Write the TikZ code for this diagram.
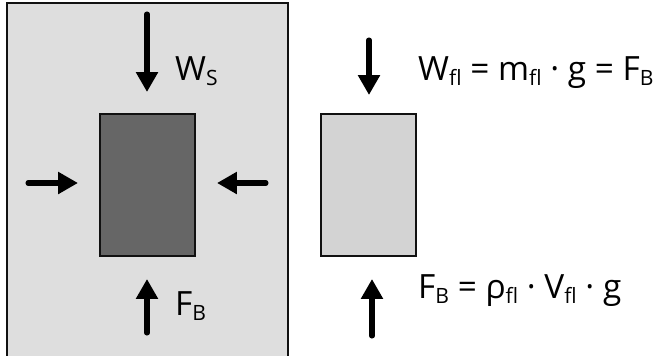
\documentclass[tikz,border=0pt]{standalone}
\usepackage{fontspec}
\setmainfont[Ligatures=NoCommon]{Open Sans}
\usetikzlibrary{arrows.meta, positioning}
\usepackage{xcolor}
\definecolor{fluid}{HTML}{DEDEDE}
\definecolor{solidgray}{HTML}{666666}
\definecolor{lightbody}{HTML}{D3D3D3}
\definecolor{edge}{HTML}{111111}
\newcommand\idx[1]{\raisebox{-0.17em}{\fontsize{18}{19}\selectfont #1}}

\begin{document}
\begin{tikzpicture}[x=0.03cm, y=-0.03cm,
    body/.style={draw=edge, line width=2pt, minimum width=2.85cm, minimum height=4.26cm,
                 inner sep=0pt},
    force/.style={line width=4.3pt, line cap=round, -{Triangle[length=17pt, width=18pt]}},
    lbl/.style={font=\fontsize{28.5}{33}\selectfont, inner sep=0pt, anchor=base west}
  ]
  \useasboundingbox (0,0) rectangle (662,355);
  % Fluid
  \draw[draw=edge, line width=2.5pt, fill=fluid] (7,3) rectangle (288,366);

  % Körper
  \node[body, fill=solidgray] (solid) at (147.5,185) {};
  \node[body, fill=lightbody] (fluidbody) at (368.5,185) {};

  % Endpunkte
  \coordinate (ws0) at (147,14);  \coordinate (ws1) at (147,92);
  \coordinate (pl0) at (28,183);  \coordinate (pl1) at (78,183);
  \coordinate (pr0) at (266,183); \coordinate (pr1) at (217,183);
  \coordinate (fb0) at (147,333); \coordinate (fb1) at (147,279);
  \coordinate (wf0) at (369,40);  \coordinate (wf1) at (369,95);
  \coordinate (ff0) at (372,336); \coordinate (ff1) at (372,279);

  % Kräfte
  \draw[force] (ws0) -- (ws1);
  \draw[force] (pl0) -- (pl1);
  \draw[force] (pr0) -- (pr1);
  \draw[force] (fb0) -- (fb1);
  \draw[force] (wf0) -- (wf1);
  \draw[force] (ff0) -- (ff1);

  % Beschriftungen
  \node[lbl] (wslbl) at (175,80)  {W\idx{S}};
  \node[lbl] (fblbl) at (175,315) {F\idx{B}};
  \node[lbl] (wflbl) at (418,80)  {W\idx{fl} = m\idx{fl} · g = F\idx{B}};
  \node[lbl] (fflbl) at (418,298) {F\idx{B} = ρ\idx{fl} · V\idx{fl} · g};
\end{tikzpicture}
\end{document}
